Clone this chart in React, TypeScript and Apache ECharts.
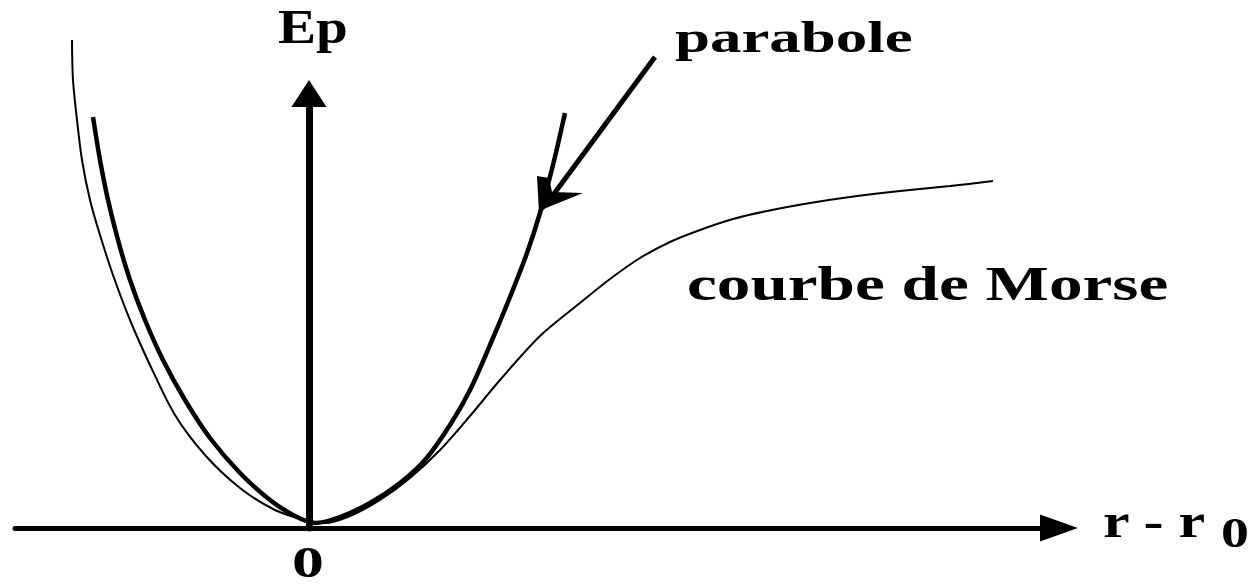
import React, { useEffect, useRef } from "react";
import * as echarts from "echarts";

// Harmonic approximation (parabola) of the potential energy well, [r - r0, Ep]
const parabolaPoints: [number, number][] = [
  [-2.16, 4.11], [-2.09, 3.68], [-2.01, 3.28], [-1.91, 2.88], [-1.79, 2.48],
  [-1.64, 2.08], [-1.46, 1.68], [-1.24, 1.28], [-0.99, 0.9], [-0.69, 0.55],
  [-0.39, 0.28], [-0.14, 0.12], [0.06, 0.05], [0.31, 0.11], [0.61, 0.25],
  [0.91, 0.45], [1.16, 0.68], [1.41, 1.03], [1.61, 1.38], [1.81, 1.83],
  [2.01, 2.31], [2.18, 2.75], [2.31, 3.15], [2.44, 3.63], [2.56, 4.15],
];

// Morse potential curve, [r - r0, Ep]
const morsePoints: [number, number][] = [
  [-2.37, 4.88], [-2.36, 4.48], [-2.32, 4.08], [-2.27, 3.68], [-2.19, 3.28],
  [-2.09, 2.93], [-1.96, 2.53], [-1.79, 2.08], [-1.59, 1.63], [-1.34, 1.13],
  [-1.04, 0.73], [-0.69, 0.4], [-0.34, 0.18], [-0.04, 0.08], [0.16, 0.05],
  [0.41, 0.12], [0.71, 0.28], [1.01, 0.5], [1.31, 0.78], [1.61, 1.12],
  [1.91, 1.48], [2.31, 1.92], [2.71, 2.25], [3.01, 2.49], [3.31, 2.7],
  [3.61, 2.86], [3.91, 2.98], [4.24, 3.09], [4.58, 3.17], [5.01, 3.25],
  [5.41, 3.31], [5.91, 3.37], [6.41, 3.42], [6.84, 3.47],
];

const axisRangeX: [number, number] = [-2.94, 7.5];
const axisRangeY: [number, number] = [0, 4.345];

const labelTexts = {
  yName: "Ep",
  parabola: "parabole",
  morse: "courbe de Morse",
  xName: "r - r",
  xNameSub: "0",
  origin: "0",
};

const FONT = "'Liberation Serif', 'Times New Roman', serif";

function label(text: string, x: number, y: number, size: number, scaleX: number, align = "left") {
  return {
    type: "text",
    x,
    y,
    scaleX,
    z: 20,
    style: {
      text,
      fill: "#000",
      fontFamily: FONT,
      fontWeight: "bold",
      fontSize: size,
      align,
      verticalAlign: "middle",
      textAlign: align,
      textVerticalAlign: "middle",
    },
  };
}

export default function App() {
  const ref = useRef<HTMLDivElement>(null);

  useEffect(() => {
    if (!ref.current) return;
    const chart = echarts.init(ref.current, undefined, { renderer: "svg" });
    chart.setOption({
      animation: false,
      backgroundColor: "#fff",
      grid: { left: 15, right: 194, top: 93.5, bottom: 57 },
      xAxis: {
        type: "value",
        min: axisRangeX[0],
        max: axisRangeX[1],
        axisLine: {
          onZero: true,
          lineStyle: { color: "#000", width: 5 },
          symbol: ["none", "triangle"],
          symbolSize: [27, 38],
        },
        axisTick: { show: false },
        axisLabel: { show: false },
        splitLine: { show: false },
      },
      yAxis: {
        type: "value",
        min: axisRangeY[0],
        max: axisRangeY[1],
        axisLine: {
          onZero: true,
          lineStyle: { color: "#000", width: 7 },
          symbol: ["none", "triangle"],
          symbolSize: [35, 27],
        },
        axisTick: { show: false },
        axisLabel: { show: false },
        splitLine: { show: false },
      },
      series: [
        {
          name: "courbe de Morse",
          type: "line",
          data: morsePoints,
          showSymbol: false,
          smooth: 0.3,
          clip: false,
          z: 3,
          lineStyle: { color: "#000", width: 2 },
        },
        {
          name: "parabole",
          type: "line",
          data: parabolaPoints,
          showSymbol: false,
          smooth: 0.3,
          clip: false,
          z: 4,
          lineStyle: { color: "#000", width: 4.5 },
        },
      ],
      graphic: [
        label(labelTexts.yName, 278, 27, 48, 1.19),
        label(labelTexts.parabola, 675, 37, 44, 1.43),
        label(labelTexts.morse, 687, 284, 48, 1.4),
        label(labelTexts.xName, 1103, 521, 48, 1.25),
        label(labelTexts.xNameSub, 1221, 533, 43, 1.3),
        label(labelTexts.origin, 308, 562, 44, 1.45, "center"),
        // pointer from the "parabole" label to its curve
        {
          type: "line",
          z: 20,
          shape: { x1: 655, y1: 57, x2: 545, y2: 206 },
          style: { stroke: "#000", lineWidth: 5 },
        },
        {
          type: "polygon",
          z: 20,
          shape: {
            points: [
              [537, 176], [549, 178], [552, 192], [583, 193], [546, 208], [539, 213],
            ],
          },
          style: { fill: "#000" },
        },
      ],
    });
    return () => chart.dispose();
  }, []);

  return (
    <div
      ref={ref}
      style={{ position: "fixed", left: 0, top: 0, width: 1253, height: 585, background: "#fff" }}
    />
  );
}
